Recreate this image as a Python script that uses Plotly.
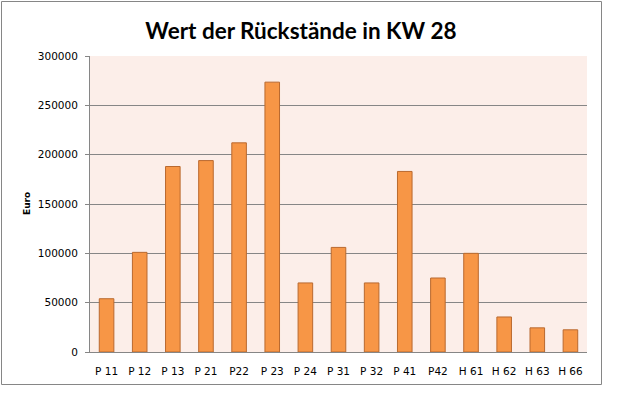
import plotly.graph_objects as go

categories = ["P 11", "P 12", "P 13", "P 21", "P22", "P 23", "P 24", "P 31",
              "P 32", "P 41", "P42", "H 61", "H 62", "H 63", "H 66"]
values = [54000, 101000, 188000, 194000, 212000, 273500, 70000, 106000,
          70000, 183000, 75000, 100000, 35500, 24500, 22500]
y_ticks = [0, 50000, 100000, 150000, 200000, 250000, 300000]

fig = go.Figure(go.Bar(
    x=categories, y=values,
    marker=dict(color="#F79646", line=dict(color="#B9692F", width=1)),
))

W, H = 626, 399
L, R, T, B = 90, 39, 56, 47
pw, ph = W - L - R, H - T - B

fig.update_layout(
    width=W, height=H,
    margin=dict(l=L, r=R, t=T, b=B),
    paper_bgcolor="white",
    plot_bgcolor="#FCEEE9",
    bargap=0.56,
    showlegend=False,
    title=dict(text="<b>Wert der Rückstände in KW 28</b>",
               font=dict(family="Lato", size=22.5, color="black"),
               x=(301 - L) / pw, xref="paper", xanchor="center",
               y=1 - 31 / H, yref="container", yanchor="middle"),
    xaxis=dict(showgrid=False, ticks="", showline=True, linecolor="#868686",
               ticklabelstandoff=9,
               tickfont=dict(family="DejaVu Sans", size=10.5, color="black")),
    yaxis=dict(range=[0, 300000], tickvals=y_ticks, ticktext=[str(v) for v in y_ticks],
               showgrid=True, gridcolor="#868686", gridwidth=1,
               showline=True, linecolor="#868686", ticks="outside", ticklen=4,
               tickcolor="#868686", zeroline=False, ticklabelstandoff=5,
               tickfont=dict(family="DejaVu Sans", size=10.5, color="black")),
    annotations=[dict(text="<b>Euro</b>", textangle=-90, xref="paper", yref="paper",
                      x=(27 - L) / pw, y=(352 - 204) / ph, showarrow=False,
                      xanchor="center", yanchor="middle",
                      font=dict(family="DejaVu Sans", size=9, color="black"))],
    shapes=[dict(type="rect", xref="paper", yref="paper",
                 x0=(1.5 - L) / pw, x1=(601.5 - L) / pw,
                 y0=(H - B - 384.5) / ph, y1=(H - B - 1.5) / ph,
                 line=dict(color="#868686", width=1), layer="below")],
)

fig.write_html("out.html", config={"displayModeBar": False},
               post_script="document.body.style.margin='0';document.body.style.padding='0';")
